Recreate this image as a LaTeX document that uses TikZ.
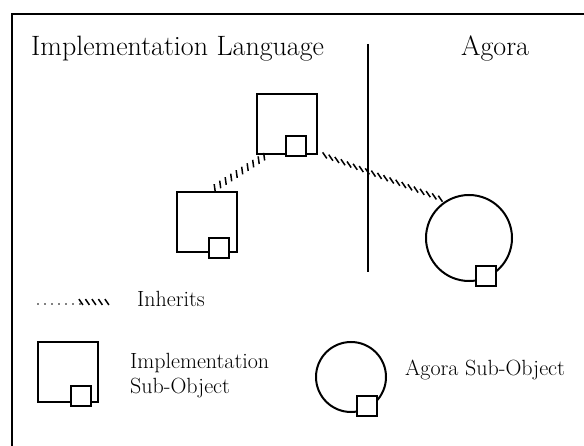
\documentclass[tikz,border=0pt]{standalone}
\usetikzlibrary{decorations.markings,calc}
\tikzset{
  x=1pt, y=-1pt,
  frame/.style={line width=2pt},
  bigbox/.style={draw, line width=2pt, minimum size=60pt, inner sep=0pt},
  subbox/.style={draw, line width=2pt, fill=white, minimum size=20pt, inner sep=0pt},
  agorabox/.style={draw, circle, line width=2pt, inner sep=0pt},
  headtext/.style={font=\fontsize{28}{32}\selectfont, anchor=base west, inner sep=0pt},
  labeltext/.style={font=\fontsize{22}{24}\selectfont, anchor=base west, inner sep=0pt},
  % hatched "inherits" connector: short slanted strokes along the path
  hatch/.style 2 args={decorate, decoration={markings,
      mark=between positions 0.03 and 0.97 step 6.5pt with
        {\draw[line width=1.5pt] (-#1,-#2) -- (#1,#2);}}},
  dotline/.style={decorate, decoration={markings,
      mark=between positions 0 and 1 step 7pt with
        {\fill (0,0) circle (0.9pt);}}},
}
\begin{document}
\begin{tikzpicture}
\useasboundingbox (0,0) rectangle (584,446);
% outer frame, running off the right and bottom edges
\draw[frame] (12,447) -- (12,14) -- (585,14);

% section headings and divider
\node[headtext] (implhead) at (31,56) {Implementation Language};
\node[headtext] (agorahead) at (461,56) {Agora};
\coordinate (divtop) at (368,44);
\coordinate (divbot) at (368,272);
\draw[frame] (divtop) -- (divbot);

% implementation objects
\node[bigbox] (parent) at (287,124) {};
\node[subbox] (parentsub) at (296,146) {};
\node[bigbox] (child) at (207,222) {};
\node[subbox] (childsub) at (219,248) {};

% agora object
\node[agorabox, minimum size=86pt] (agora) at (469,238) {};
\node[subbox] (agorasub) at (486,276) {};

% inheritance connectors
\draw[draw=none, hatch={1.6}{-3.5}] ($(child.north)+(6,-2)$) -- ($(parent.south west)+(14,-2)$);
\draw[draw=none, hatch={3}{2.1}] ($(parent.south east)+(3,-1)$) -- (agora.122);

% legend: inherits
\coordinate (lega) at (38,304);
\coordinate (legb) at (80,302);
\coordinate (legc) at (110,302);
\draw[draw=none, dotline] (lega) -- ($(legb)+(0,2)$);
\draw[draw=none, hatch={2}{2.9}] (legb) -- (legc);
\node[labeltext] (inhlabel) at (137,307) {Inherits};

% legend: implementation sub-object
\node[bigbox] (legimpl) at (68,372) {};
\node[subbox] (legimplsub) at (81,396) {};
\node[labeltext] (impllabel) at (130,369) {Implementation};
\node[labeltext] (sublabel) at (130,393) {Sub-Object};

% legend: agora sub-object
\node[agorabox, minimum size=70pt] (legagora) at (351,377) {};
\node[subbox] (legagorasub) at (367,406) {};
\node[labeltext] (agoralabel) at (405,376) {Agora Sub-Object};
\end{tikzpicture}
\end{document}
